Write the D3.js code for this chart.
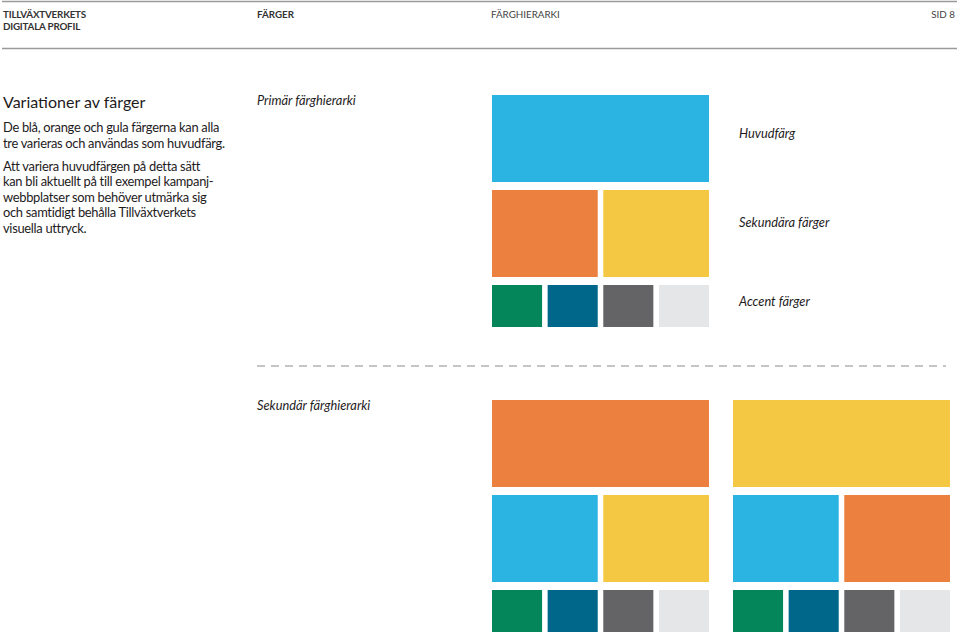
<!DOCTYPE html>
<html><head><meta charset="utf-8">
<script src="https://cdn.jsdelivr.net/npm/d3@7"></script>
<style>
html,body{margin:0;padding:0;background:#fff;}
svg{display:block;font-family:Lato,"Open Sans",sans-serif;}
</style></head>
<body>
<svg id="c" width="960" height="633"></svg>
<script>
// ---- data ----
const headerItems = ["TILLVÄXTVERKETS", "DIGITALA PROFIL", "FÄRGER", "FÄRGHIERARKI", "SID 8"];
const title = "Variationer av färger";
const para1 = ["De blå, orange och gula färgerna kan alla", "tre varieras och användas som huvudfärg."];
const para2 = ["Att variera huvudfärgen på detta sätt", "kan bli aktuellt på till exempel kampanj-", "webbplatser som behöver utmärka sig", "och samtidigt behålla Tillväxtverkets", "visuella uttryck."];
const sectionTitles = ["Primär färghierarki", "Sekundär färghierarki"];
const levelLabels = ["Huvudfärg", "Sekundära färger", "Accent färger"];
const palette = {blue:"#2bb3e1", orange:"#ec803e", yellow:"#f5c843", green:"#05865a", petrol:"#00678a", gray:"#646466", light:"#e5e6e8"};
const accentColors = ["green", "petrol", "gray", "light"];
const panelMain = ["blue", "orange", "yellow"];
const panelSecondary = [["orange", "yellow"], ["blue", "yellow"], ["blue", "orange"]];
const slots = [0, 1, 2, 3];

const svg = d3.select("#c");
const ink = "#1e1b1c";

// header
svg.append("line").attr("x1",2).attr("x2",957).attr("y1",1.5).attr("y2",1.5).attr("stroke","#9a9a9a").attr("stroke-width",1.5);
svg.append("line").attr("x1",2).attr("x2",957).attr("y1",48.5).attr("y2",48.5).attr("stroke","#9a9a9a").attr("stroke-width",1.5);
const hdr = svg.append("g").attr("font-size",9.8).attr("fill","#333");
hdr.append("text").attr("x",3).attr("y",17.5).attr("font-weight","bold").attr("letter-spacing",-0.2).text(headerItems[0]);
hdr.append("text").attr("x",3).attr("y",30).attr("font-weight","bold").attr("letter-spacing",-0.2).text(headerItems[1]);
hdr.append("text").attr("x",257).attr("y",17.5).attr("font-weight","bold").text(headerItems[2]);
hdr.append("text").attr("x",491).attr("y",17.5).attr("fill","#444").text(headerItems[3]);
hdr.append("text").attr("x",955).attr("y",17.5).attr("text-anchor","end").attr("fill","#444").text(headerItems[4]);

// left text
svg.append("text").attr("x",3).attr("y",108).attr("font-size",16).attr("fill",ink).text(title);
const body = svg.append("g").attr("font-size",12.9).attr("letter-spacing",-0.3).attr("fill",ink);
para1.forEach((t,i)=>body.append("text").attr("x",3).attr("y",132+i*15.5).text(t));
para2.forEach((t,i)=>body.append("text").attr("x",3).attr("y",171+i*15.4).text(t));

// section titles
const it = svg.append("g").attr("font-size",12.8).attr("font-style","italic").attr("fill",ink);
it.append("text").attr("x",257).attr("y",105).text(sectionTitles[0]);
it.append("text").attr("x",257).attr("y",410).text(sectionTitles[1]);
[138,227,306].forEach((y,i)=>it.append("text").attr("x",739).attr("y",y).text(levelLabels[i]));

// dashed separator
svg.append("line").attr("x1",257).attr("x2",946).attr("y1",366).attr("y2",366)
  .attr("stroke","#8a8a8a").attr("stroke-width",1).attr("stroke-dasharray","8,6");

// panels
const panelOrigins = [[492,95],[492,400],[733,400]];
panelMain.forEach((main, p)=>{
  const [x0,y0] = panelOrigins[p];
  const x = d3.scaleBand().domain(slots).range([x0, x0+217]).paddingInner(0.1).paddingOuter(0);
  const y = d3.scaleOrdinal().domain(["main","sec","acc"]).range([y0, y0+95, y0+190]);
  const hgt = {main:87, sec:87, acc:42};
  const g = svg.append("g");
  g.append("rect").attr("x",x(0)).attr("y",y("main")).attr("width",x(3)+x.bandwidth()-x(0)).attr("height",hgt.main).attr("fill",palette[main]);
  g.selectAll(".sec").data(panelSecondary[p]).join("rect")
    .attr("x",(d,i)=>x(i*2)).attr("y",y("sec"))
    .attr("width",x(1)+x.bandwidth()-x(0)).attr("height",hgt.sec)
    .attr("fill",d=>palette[d]);
  g.selectAll(".acc").data(accentColors).join("rect")
    .attr("x",(d,i)=>x(i)).attr("y",y("acc"))
    .attr("width",x.bandwidth()).attr("height",hgt.acc)
    .attr("fill",d=>palette[d]);
});
</script>
</body></html>
